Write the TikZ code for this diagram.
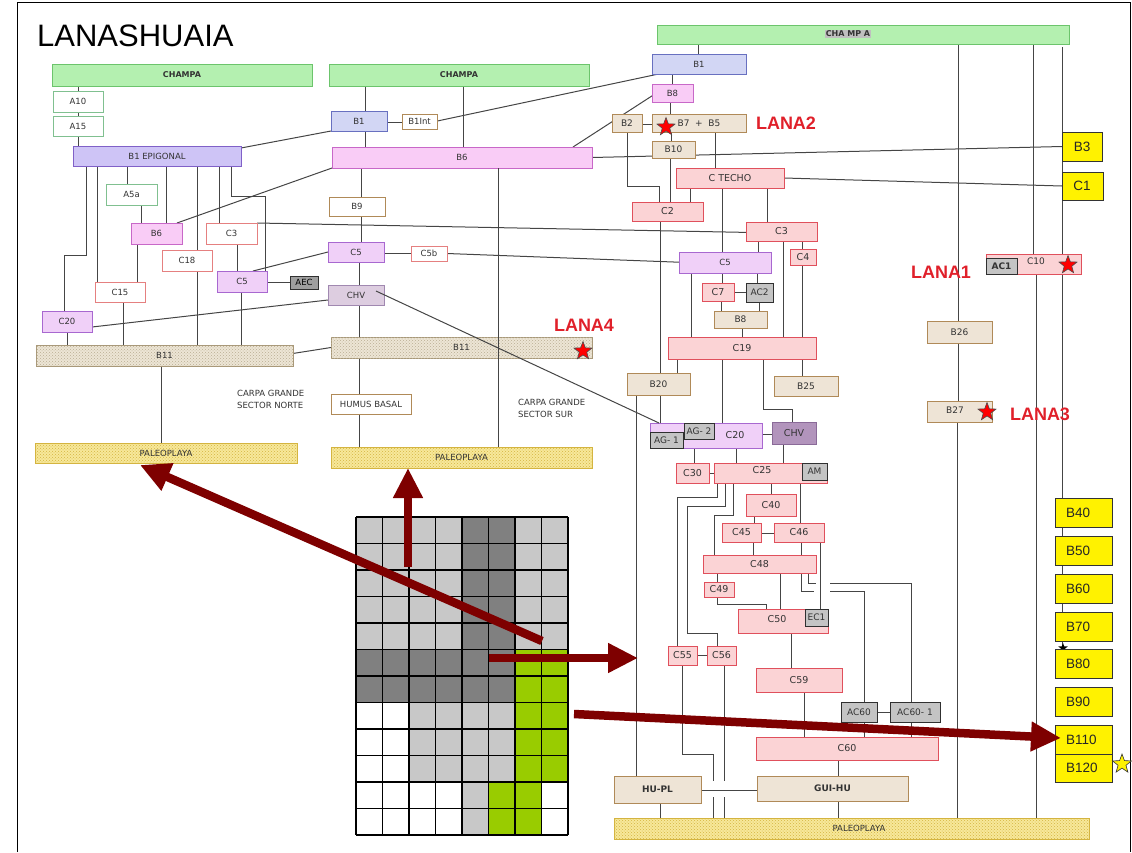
\documentclass[tikz,border=0pt]{standalone}
\usepackage{fontspec}
\setmainfont{Liberation Sans}
\newfontfamily\dv{DejaVu Sans}
\usetikzlibrary{patterns,shapes.geometric,arrows.meta}
\pgfdeclarelayer{bg}\pgfsetlayers{bg,main}
\newcommand\fs[1]{\fontsize{#1}{#1}\selectfont}
\definecolor{grnF}{HTML}{B4F0B0}\definecolor{grnD}{HTML}{6CC46C}
\definecolor{tanF}{HTML}{EEE4D6}\definecolor{tanD}{HTML}{B08A58}
\definecolor{pnkF}{HTML}{FBD3D5}\definecolor{pnkD}{HTML}{E0505C}
\definecolor{wrD}{HTML}{E58080}\definecolor{wgD}{HTML}{80C090}
\definecolor{magF}{HTML}{F9CCF6}\definecolor{magD}{HTML}{C868C8}
\definecolor{lavF}{HTML}{F0D0F8}\definecolor{lavD}{HTML}{A868D0}
\definecolor{bluF}{HTML}{D2D6F4}\definecolor{bluD}{HTML}{6870C0}
\definecolor{epiF}{HTML}{CEC4F6}\definecolor{epiD}{HTML}{8060C8}
\definecolor{gryF}{HTML}{C4C4C4}\definecolor{gryD}{HTML}{303030}
\definecolor{chvF}{HTML}{DDCDE0}\definecolor{chvD}{HTML}{A088B0}
\definecolor{chvRF}{HTML}{B294BC}\definecolor{chvRD}{HTML}{8A6A98}
\definecolor{b11F}{HTML}{EDE5D5}\definecolor{b11D}{HTML}{A89878}
\definecolor{palF}{HTML}{F7E89A}\definecolor{palD}{HTML}{D4B440}
\definecolor{arr}{HTML}{7E0000}\definecolor{lanared}{HTML}{E0202A}
\definecolor{lnc}{HTML}{454545}\definecolor{txt}{HTML}{333333}
\definecolor{cL}{HTML}{C8C8C8}\definecolor{cD}{HTML}{808080}
\definecolor{cG}{HTML}{99CC00}\definecolor{cW}{HTML}{FFFFFF}
\tikzset{
 bx/.style={draw, inner sep=0pt, outer sep=0pt, line width=0.9pt, text=txt, font=\dv\fs{8.5}},
 grn/.style={bx, fill=grnF, draw=grnD, font=\dv\bfseries\fs{8}},
 wg/.style={bx, fill=white, draw=wgD},
 wr/.style={bx, fill=white, draw=wrD},
 wt/.style={bx, fill=white, draw=tanD},
 tan/.style={bx, fill=tanF, draw=tanD, font=\dv\fs{9}},
 pnk/.style={bx, fill=pnkF, draw=pnkD, font=\dv\fs{9.5}},
 mag/.style={bx, fill=magF, draw=magD},
 lav/.style={bx, fill=lavF, draw=lavD},
 blu/.style={bx, fill=bluF, draw=bluD},
 epi/.style={bx, fill=epiF, draw=epiD},
 gry/.style={bx, fill=gryF, draw=gryD, font=\dv\fs{9}},
 dgry/.style={bx, fill=gray!75, draw=gryD, text=black},
 chvm/.style={bx, fill=chvF, draw=chvD},
 chvr/.style={bx, fill=chvRF, draw=chvRD, font=\dv\fs{9.5}},
 bdot/.style={bx, fill=b11F, draw=b11D, postaction={pattern=crosshatch dots, pattern color=b11D!80}},
 pal/.style={bx, fill=palF, draw=palD, postaction={pattern=crosshatch dots, pattern color=palD}},
 yl/.style={bx, fill=yellow, draw=black!80, line width=1pt},
 ylab/.style={anchor=west, inner sep=0pt, font=\fs{13.5}, text=black!85},
 lana/.style={font=\bfseries\fs{18}, text=lanared, inner sep=0pt},
 rstar/.style={star, star points=5, star point ratio=2.4, fill=red, draw=black!70, line width=0.6pt, minimum size=19pt, inner sep=0pt},
 bigarrow/.style={draw=arr, line width=8.5pt, -{Triangle[length=30pt,width=28pt]}},
 lab/.style={inner sep=0pt, text=txt}
}
\newcommand\bx[7]{\node[#1, minimum width={(#5)-(#3)}, minimum height={(#6)-(#4)}] (#2) at ({((#3)+(#5))/2},{((#4)+(#6))/2}) {#7};}
\newcommand\vl[3]{\draw (#1.south -| #3,0) -- (#2.north -| #3,0);}
\newcommand\hl[3]{\draw (#1.east |- 0,#3) -- (#2.west |- 0,#3);}
\begin{document}
\begin{tikzpicture}[x=1pt,y=-1pt]
\useasboundingbox (0,0) rectangle (1132,852);
\draw[line width=0.8pt] (17,852) -- (17,2) -- (1130,2) -- (1130,852);
\node[anchor=base west, inner sep=0pt, font=\fs{31}] (title) at (37,46) {LANASHUAIA};
% ---------- left
\bx{grn}{champaL}{52}{64}{312}{86}{CHAMPA}
\bx{wg}{a10}{53}{91}{103}{112}{A10}
\bx{wg}{a15}{53}{116}{103}{136}{A15}
\bx{epi}{b1epi}{73}{146}{241}{166}{B1 EPIGONAL}
\bx{wg}{a5a}{106}{184}{157}{205}{A5a}
\bx{mag}{b6L}{131}{223}{182}{244}{B6}
\bx{wr}{c3L}{206}{223}{257}{244}{C3}
\bx{wr}{c18}{162}{250}{212}{271}{C18}
\bx{wr}{c15}{95}{282}{145}{302}{C15}
\bx{lav}{c5L}{217}{271}{267}{292}{C5}
\bx{dgry}{aec}{290}{276}{318}{289}{AEC}
\bx{lav}{c20L}{42}{311}{92}{332}{C20}
\bx{bdot}{b11L}{36}{345}{293}{366}{B11}
\bx{pal}{palL}{35}{443}{297}{463}{PALEOPLAYA}
\node[anchor=north west, align=left, inner sep=0pt, text=txt, font=\dv\fontsize{8.5}{12}\selectfont] (carpaN) at (237,390) {CARPA GRANDE\\SECTOR NORTE};
% ---------- middle
\bx{grn}{champaM}{329}{64}{589}{86}{CHAMPA}
\bx{blu}{b1M}{331}{111}{387}{131}{B1}
\bx{wt}{b1int}{402}{114}{437}{129}{B1Int}
\bx{mag}{b6M}{332}{147}{592}{168}{B6}
\bx{wt}{b9}{329}{197}{385}{216}{B9}
\bx{lav}{c5M}{328}{242}{384}{262}{C5}
\bx{wr}{c5b}{411}{246}{447}{261}{C5b}
\bx{chvm}{chvM}{328}{285}{384}{305}{CHV}
\bx{bdot}{b11M}{331}{337}{592}{358}{B11}
\bx{wt}{humus}{331}{394}{411}{414}{HUMUS BASAL}
\bx{pal}{palM}{331}{447}{592}{468}{PALEOPLAYA}
\node[anchor=north west, align=left, inner sep=0pt, text=txt, font=\dv\fontsize{8.5}{12}\selectfont] (carpaS) at (518,399) {CARPA GRANDE\\SECTOR SUR};
\node[lana] (lana4) at (584,325) {LANA4};
\node[rstar] (st4) at (583,351) {};
% ---------- right
\bx{grn}{champaR}{657}{25}{1069}{44}{}
\node[fill=gray!50, inner sep=1pt, font=\dv\bfseries\fs{8}, text=txt] (champaRl) at (848,34) {CHA MP A};
\bx{blu}{b1R}{652}{54}{746}{74}{B1}
\bx{mag}{b8R}{652}{84}{693}{102}{B8}
\bx{tan}{b2}{612}{114}{642}{132}{B2}
\bx{tan}{b75}{652}{114}{746}{132}{B7 \ + \ B5}
\bx{tan}{b10}{652}{141}{695}{158}{B10}
\bx{pnk}{ctecho}{676}{168}{784}{188}{C TECHO}
\bx{pnk}{c2R}{632}{202}{703}{221}{C2}
\bx{pnk}{c3R}{746}{222}{817}{241}{C3}
\bx{lav}{c5R}{679}{252}{771}{273}{C5}
\bx{pnk}{c4}{790}{249}{816}{265}{C4}
\bx{pnk}{c7}{702}{283}{734}{301}{C7}
\bx{gry}{ac2}{746}{283}{773}{302}{AC2}
\bx{tan}{b8low}{714}{311}{767}{328}{B8}
\bx{pnk}{c19}{668}{337}{816}{359}{C19}
\bx{tan}{b20}{627}{373}{690}{395}{B20}
\bx{tan}{b25}{774}{376}{838}{396}{B25}
\bx{lav}{c20R}{650}{423}{762}{448}{}
\node[lab, font=\dv\fs{9.5}] (c20Rl) at (735,435) {C20};
\bx{gry}{ag2}{684}{423}{714}{439}{AG- 2}
\bx{gry}{ag1}{650}{432}{683}{448}{AG- 1}
\bx{chvr}{chvR}{772}{422}{816}{444}{CHV}
\bx{pnk}{c30}{676}{463}{709}{483}{C30}
\bx{pnk}{c25}{714}{463}{827}{483}{}
\node[lab, font=\dv\fs{9.5}] (c25l) at (762,470) {C25};
\bx{gry}{am}{802}{463}{827}{480}{AM}
\bx{pnk}{c40}{746}{494}{796}{516}{C40}
\bx{pnk}{c45}{722}{523}{761}{542}{C45}
\bx{pnk}{c46}{774}{523}{824}{542}{C46}
\bx{pnk}{c48}{703}{555}{816}{573}{C48}
\bx{pnk}{c49}{704}{582}{734}{597}{C49}
\bx{pnk}{c50}{738}{609}{828}{633}{}
\node[lab, font=\dv\fs{9.5}] (c50l) at (777,619) {C50};
\bx{gry}{ec1}{805}{609}{828}{626}{EC1}
\bx{pnk}{c55}{668}{646}{697}{665}{C55}
\bx{pnk}{c56}{707}{646}{736}{665}{C56}
\bx{pnk}{c59}{756}{668}{842}{692}{C59}
\bx{gry}{ac60}{841}{702}{877}{722}{AC60}
\bx{gry}{ac601}{890}{702}{940}{722}{AC60- 1}
\bx{pnk}{c60}{756}{737}{938}{760}{C60}
\bx{tan}{hupl}{614}{776}{701}{803}{\bfseries HU-PL}
\bx{tan}{guihu}{757}{776}{908}{801}{\bfseries GUI-HU}
\bx{pal}{palR}{614}{818}{1089}{839}{}
\node[lab, font=\dv\fs{8.5}] (palRl) at (859,828) {PALEOPLAYA};
\node[lana] (lana2) at (786,123) {LANA2};
\node[rstar] (st2) at (666,127) {};
% ---------- far right
\bx{pnk}{c10}{986}{254}{1081}{274}{}
\node[lab, font=\dv\fs{9}] (c10l) at (1036,261) {C10};
\bx{gry}{ac1}{986}{258}{1017}{274}{\bfseries AC1}
\node[rstar] (st1) at (1068,265) {};
\node[lana] (lana1) at (941,272) {LANA1};
\bx{tan}{b26}{927}{321}{992}{343}{B26}
\bx{tan}{b27}{927}{401}{992}{422}{}
\node[lab, font=\dv\fs{9}] (b27l) at (955,410) {B27};
\node[rstar] (st3) at (987,412) {};
\node[lana] (lana3) at (1040,414) {LANA3};
\bx{yl}{b3}{1062}{132}{1102}{161}{}
\node[lab, font=\fs{13.5}, text=black!85] (b3l) at (1082,147) {B3};
\bx{yl}{c1}{1062}{172}{1103}{200}{}
\node[lab, font=\fs{13.5}, text=black!85] (c1l) at (1082,186) {C1};
\node[star, star points=5, star point ratio=2.4, fill=black, minimum size=10pt, inner sep=0pt] (bstar) at (1063,648) {};
\bx{yl}{b40}{1055}{498}{1112}{527}{}
\bx{yl}{b50}{1055}{536}{1112}{565}{}
\bx{yl}{b60}{1055}{574}{1112}{603}{}
\bx{yl}{b70}{1055}{612}{1112}{641}{}
\bx{yl}{b80}{1055}{649}{1112}{678}{}
\bx{yl}{b90}{1055}{687}{1112}{716}{}
\bx{yl}{b110}{1055}{725}{1112}{754}{}
\bx{yl}{b120}{1055}{754}{1112}{782}{}
\foreach \n/\t in {b40/B40,b50/B50,b60/B60,b70/B70,b80/B80,b90/B90,b110/B110,b120/B120}
  \node[ylab] at ([xshift=11pt]\n.west) {\t};
\node[star, star points=5, star point ratio=2.4, fill=yellow, draw=black!80, line width=0.6pt, minimum size=20pt, inner sep=0pt] (ystar) at (1122,764) {};
% ---------- connectors (behind)
\begin{pgfonlayer}{bg}
\begin{scope}[color=lnc, line width=1pt]
\vl{champaL}{a10}{78} \vl{a10}{a15}{78} \vl{a15}{b1epi}{78}
\draw (b1epi.south -| 86,0) -- (86,255) -| (c20L.north -| 64,0);
\vl{b1epi}{c15}{97} \vl{b1epi}{a5a}{127} \vl{a5a}{b6L}{141} \vl{b1epi}{b6L}{166}
\vl{b1epi}{c18}{197} \vl{c18}{b11L}{197} \vl{b1epi}{c3L}{219}
\draw (b1epi.south -| 231,0) -- (231,196) -| (c5L.north -| 265,0);
\vl{b6L}{c15}{137} \vl{c3L}{c5L}{237} \hl{c5L}{aec}{282}
\vl{c5L}{b11L}{241} \vl{c15}{b11L}{123} \vl{c20L}{b11L}{67} \vl{b11L}{palL}{161}
\draw ([yshift=-2pt]b1epi.north east) -- (b1M.south west);
\draw ([xshift=-5pt]b6L.north east) -- (b6M.south west);
\draw (c3L.north east) -- ([xshift=6pt,yshift=-1pt]c3R.west);
\draw ([yshift=-5.5pt]c20L.east) -- ([yshift=-5pt]chvM.west);
\draw ([xshift=-13pt]b11L.east) -- (b11M.west);
\draw ([xshift=-14pt]c5L.north east) -- (c5M.west);
% middle
\vl{champaM}{b1M}{365} \vl{champaM}{b6M}{463} \hl{b1M}{b1int}{122} \vl{b1M}{b6M}{365}
\vl{b6M}{b9}{361} \vl{b9}{c5M}{361} \hl{c5M}{c5b}{253} \vl{c5M}{chvM}{359}
\vl{chvM}{b11M}{359} \vl{b11M}{humus}{359} \vl{humus}{palM}{359}
\draw ([xshift=-2pt]b1int.east) -- ([xshift=16pt,yshift=2pt]b1R.south west);
\draw ([xshift=-19pt]b6M.north east) -- ([xshift=6pt,yshift=-8pt]b8R.north west);
\draw (b6M.east) -- (b3.west);
\draw (c5b.east) -- ([xshift=8pt]c5R.west);
% right
\vl{champaR}{b1R}{698} \vl{b1R}{b8R}{672} \vl{b8R}{b75}{670} \hl{b2}{b75}{124}
\vl{b75}{b10}{671} \vl{b10}{c2R}{670}
\draw (b2.south -| 627,0) -- (627,186) -| (c2R.north -| 659,0);
\vl{b75}{ctecho}{715}
\draw (ctecho.east) -- (c1.west);
\vl{ctecho}{c2R}{690} \vl{ctecho}{c5R}{722} \vl{ctecho}{c3R}{767}
\vl{c2R}{b20}{660} \vl{c3R}{c5R}{758} \vl{c3R}{c19}{783} \vl{c3R}{c4}{802} \vl{c4}{c19}{802}
\vl{c5R}{c19}{691} \vl{c5R}{c7}{722} \vl{c5R}{ac2}{757} \hl{c7}{ac2}{292}
\vl{c7}{b8low}{721} \vl{ac2}{b8low}{759} \vl{b8low}{c19}{742}
\vl{c19}{b20}{677} \vl{c19}{c20R}{722}
\draw (c19.south -| 763,0) -- (763,409) -| (chvR.north -| 792,0);
\vl{c19}{b25}{802} \vl{b20}{c20R}{660} \vl{b20}{hupl}{636}
\hl{c20R}{chvR}{434} \vl{c20R}{c30}{694} \vl{c20R}{c25}{736} \vl{chvR}{c25}{783}
\hl{c30}{c25}{473}
\draw (c25.south -| 717,0) -- (717,497) -| (c55.north -| 677,0);
\draw (c25.south -| 725,0) -- (725,506) -- (687,506) -- (687,633) -| (c56.north -| 717,0);
\draw (c25.south -| 733,0) -- (733,515) -| (c48.north -| 714,0);
\vl{c25}{c40}{771} \vl{c25}{c46}{800} \vl{c40}{c45}{754} \hl{c45}{c46}{533}
\vl{c45}{c48}{753} \vl{c46}{c48}{801} \vl{c46}{ec1}{820}
\vl{c48}{c49}{717} \vl{c48}{c50}{780}
\draw (c48.south -| 801,0) -- (801,591) -- (814,591);
\draw (c48.south -| 808,0) -- (808,583) -- (816,583);
\draw (830,583) -| (ac601.north -| 911,0);
\draw (830,591) -| (ac60.north -| 864,0);
\draw (c49.south -| 717,0) -- (717,604) -| (c50.north -| 766,0);
\vl{c50}{c59}{791} \hl{c55}{c56}{655}
\draw (c55.south -| 682,0) -- (682,754) -- (713,754) -- (713,781);
\draw (713,797) -- (palR.north -| 713,0);
\draw (c56.south -| 724,0) -- (724,781);
\draw (724,797) -- (palR.north -| 724,0);
\vl{c59}{c60}{804} \hl{ac60}{ac601}{712} \vl{ac60}{c60}{864} \vl{ac601}{c60}{911}
\vl{c60}{guihu}{838} \hl{hupl}{guihu}{790} \vl{hupl}{palR}{660} \vl{guihu}{palR}{838}
% far right verticals
\vl{champaR}{b26}{958} \vl{b26}{b27}{958} \vl{b27}{palR}{957}
\vl{champaR}{c10}{1033} \vl{c10}{palR}{1036}
\draw ([yshift=-3pt]champaR.south -| 1062,0) -- (b80.north -| 1062,0);
\end{scope}
\end{pgfonlayer}
% connectors drawn over boxes
\begin{scope}[color=lnc, line width=1pt]
\vl{b6M}{palM}{498}
\draw ([xshift=-8pt,yshift=-6pt]chvM.north east) -- ([xshift=9pt]c20R.north west);
\end{scope}
% ---------- grid
\foreach \r/\cols in {0/{cL,cL,cL,cL,cD,cD,cL,cL},1/{cL,cL,cL,cL,cD,cD,cL,cL},2/{cL,cL,cL,cL,cD,cD,cL,cL},3/{cL,cL,cL,cL,cD,cD,cL,cL},4/{cL,cL,cL,cL,cD,cD,cL,cL},5/{cD,cD,cD,cD,cD,cD,cG,cG},6/{cD,cD,cD,cD,cD,cD,cG,cG},7/{cW,cW,cL,cL,cL,cL,cG,cG},8/{cW,cW,cL,cL,cL,cL,cG,cG},9/{cW,cW,cL,cL,cL,cL,cG,cG},10/{cW,cW,cW,cW,cL,cG,cG,cW},11/{cW,cW,cW,cW,cL,cG,cG,cW}}{
  \foreach \c [count=\i from 0] in \cols {
    \fill[\c] ({356+26.5*\i},{517+26.5*\r}) rectangle ++(26.5,26.5);
  }
}
\foreach \i in {0,...,8} \draw[line width=1.1pt] ({356+26.5*\i},517) -- ({356+26.5*\i},835);
\foreach \j in {0,...,12} \draw[line width=1.1pt] (356,{517+26.5*\j}) -- (568,{517+26.5*\j});
% ---------- big arrows
\coordinate (a1s) at (408,567); \coordinate (a1e) at (408,468);
\coordinate (a2s) at (542,641); \coordinate (a2e) at (140,465);
\coordinate (a3s) at (489,658); \coordinate (a3e) at (638,658);
\coordinate (a4s) at (574,714); \coordinate (a4e) at (1061,738);
\draw[bigarrow] (a1s) -- (a1e);
\draw[bigarrow] (a2s) -- (a2e);
\draw[bigarrow] (a3s) -- (a3e);
\draw[bigarrow] (a4s) -- (a4e);
\end{tikzpicture}
\end{document}
